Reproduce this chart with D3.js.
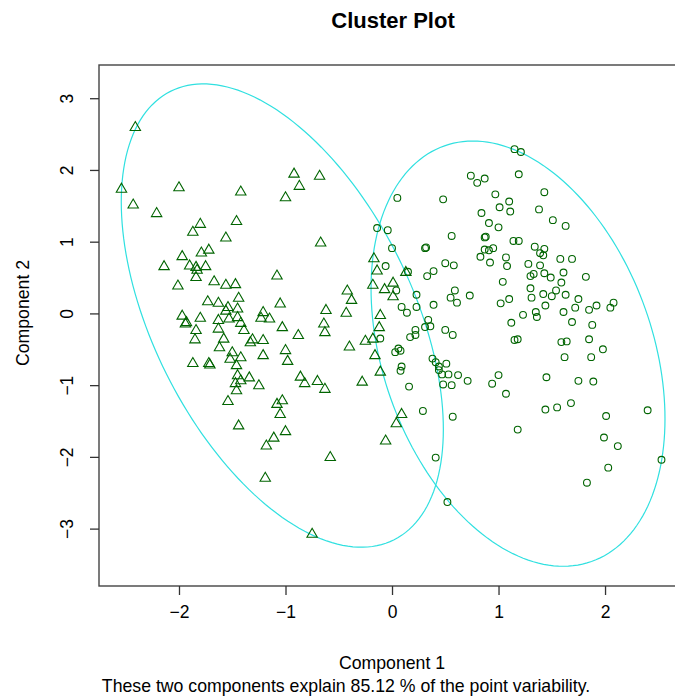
<!DOCTYPE html>
<html>
<head>
<meta charset="utf-8">
<script src="https://cdn.jsdelivr.net/npm/d3@7"></script>
<style>
  html, body { margin: 0; padding: 0; background: #fff; }
  svg text { font-family: "Liberation Sans", Arial, sans-serif; fill: #000; }
</style>
</head>
<body>
<svg id="chart" width="675" height="696"></svg>
<script>
// ---- data (component scores) ----
const cluster1X = [-2.41,-2.54,-2.43,-2.21,-2.00,-1.42,-0.92,-0.68,-0.87,-1.00,-1.80,-1.87,-1.46,-1.56,-0.67,-1.72,-1.79,-1.97,-2.14,-1.90,-1.84,-1.75,-1.84,-2.01,-1.67,-1.56,-1.47,-1.08,-0.17,-0.14,-0.18,-0.42,-0.38,-0.07,-1.83,-1.73,-1.63,-1.54,-1.44,-1.45,-1.56,-1.97,-1.93,-1.94,-1.80,-1.84,-1.85,-1.63,-1.63,-1.53,-1.45,-1.42,-1.39,-1.58,-1.62,-1.31,-1.33,-1.21,-1.21,-1.23,-1.15,-1.05,-1.03,-0.88,-1.50,-1.42,-1.52,-1.46,-1.21,-1.00,-0.98,-1.87,-1.72,-1.71,-1.45,-1.34,-1.42,-1.47,-1.25,-1.46,-1.54,-0.86,-0.82,-1.03,-1.08,-0.62,-0.64,-0.63,-0.43,-0.11,-0.12,-0.25,-0.40,-0.16,-0.11,-0.06,-0.70,-0.63,-0.28,-1.05,-1.44,-1.00,-1.11,-1.18,-0.58,-1.19,-0.75,0.01,0.01,0.13,-0.18,0.09,0.04];
const cluster1Y = [2.60,1.74,1.52,1.40,1.76,1.70,1.95,1.92,1.78,1.62,1.25,1.14,1.29,1.06,0.99,0.89,0.85,0.80,0.66,0.67,0.65,0.66,0.51,0.39,0.45,0.40,0.41,0.53,0.77,0.60,0.40,0.32,0.19,0.34,0.61,0.17,0.15,0.09,0.22,0.07,0.04,-0.03,-0.12,-0.14,-0.06,-0.23,-0.36,-0.09,-0.21,-0.07,-0.05,-0.13,-0.23,-0.35,-0.47,-0.36,-0.40,-0.37,0.02,-0.06,-0.07,0.14,-0.19,-0.30,-0.54,-0.61,-0.63,-0.72,-0.58,-0.51,-0.66,-0.69,-0.69,-0.71,-0.86,-0.89,-0.93,-0.97,-1.00,-1.07,-1.22,-0.88,-0.97,-1.21,-1.26,0.05,-0.14,-0.26,0.01,-0.02,-0.19,-0.38,-0.46,-0.58,-0.81,-1.77,-0.94,-1.05,-0.95,-1.40,-1.56,-1.64,-1.73,-1.84,-2.00,-2.29,-3.07,0.43,0.24,0.58,-0.35,-1.40,-1.53];

const cluster2X = [-0.14,-0.04,-0.06,-0.11,0.00,0.31,0.32,0.56,0.15,0.39,0.33,0.50,0.58,0.04,0.23,0.23,0.39,0.09,0.14,0.34,0.31,0.36,0.59,0.55,0.61,0.22,0.22,0.17,0.50,0.57,0.06,0.03,0.08,0.09,0.08,0.16,0.38,0.41,0.44,0.44,0.51,0.47,0.53,0.62,0.48,0.56,1.15,1.21,0.74,0.80,0.87,1.19,0.97,1.43,0.05,0.48,1.10,1.01,1.11,1.38,0.84,0.91,1.00,1.51,1.63,0.87,0.88,1.14,1.19,0.87,0.95,0.91,0.83,0.92,1.07,1.08,1.34,1.43,1.39,1.42,1.58,1.69,1.28,1.39,1.30,1.33,1.43,1.49,1.61,1.59,1.82,1.04,1.30,1.31,1.42,1.50,1.54,1.63,1.75,1.10,1.02,1.44,1.23,1.35,1.36,1.61,1.72,1.85,1.92,2.05,2.08,1.69,1.88,1.12,1.85,1.59,1.64,1.15,1.18,1.98,1.62,1.87,0.73,0.71,0.94,1.00,1.07,1.45,1.75,1.89,1.44,1.55,1.68,2.01,2.40,1.18,1.99,2.12,2.53,2.03,1.83,0.52,0.41,0.29,0.57];
const cluster2Y = [1.19,1.16,0.66,-0.35,0.91,0.91,0.92,1.08,0.58,0.59,0.52,0.70,0.67,0.32,0.26,0.09,0.12,0.09,0.01,-0.09,-0.19,-0.18,0.32,0.22,0.15,-0.23,-0.30,-0.33,-0.23,-0.30,-0.49,-0.54,-0.52,-0.74,-0.80,-1.02,-0.63,-0.68,-0.74,-0.79,-0.70,-0.85,-0.85,-0.86,-0.99,-1.00,2.29,2.25,1.92,1.82,1.88,1.94,1.66,1.69,1.61,1.59,1.56,1.48,1.42,1.45,1.40,1.26,1.20,1.30,1.22,1.06,1.07,1.01,1.01,0.89,0.91,0.88,0.79,0.71,0.78,0.66,0.93,0.90,0.84,0.81,0.76,0.76,0.69,0.67,0.52,0.55,0.56,0.50,0.57,0.43,0.51,0.44,0.35,0.22,0.27,0.24,0.32,0.26,0.20,0.20,0.14,0.11,-0.02,0.02,-0.05,0.02,0.08,0.05,0.11,0.08,0.15,-0.12,-0.16,-0.13,-0.36,-0.40,-0.39,-0.37,-0.36,-0.50,-0.61,-0.61,0.25,-0.94,-0.98,-0.86,-1.12,-0.89,-0.94,-0.95,-1.34,-1.31,-1.25,-1.43,-1.35,-1.62,-1.73,-1.85,-2.04,-2.15,-2.36,-2.63,-2.01,-1.36,-1.44];

// cluster ellipses: centre and covariance-like shape matrix (data units)
const ellipseCenters = [[-1.03, -0.03], [1.183, -0.561]];
const ellipseShapes  = [[[2.286, -2.396], [-2.396, 10.43]], [[1.904, -1.252], [-1.252, 8.785]]];

const xTicks = [-2, -1, 0, 1, 2];
const yTicks = [-3, -2, -1, 0, 1, 2, 3];

const titleText = "Cluster Plot";
const xLabel = "Component 1";
const yLabel = "Component 2";
const subText = "These two components explain 85.12 % of the point variability.";

// ---- layout ----
const svg = d3.select("#chart");
const plotL = 99, plotR = 678, plotT = 65, plotB = 586;
const x = d3.scaleLinear().domain([-2.751, 2.685]).range([plotL, plotR]);
const y = d3.scaleLinear().domain([-3.80, 3.463]).range([plotB, plotT]);

const ptColor = "#006400";
const ellColor = "#30e0e0";

// ellipses
ellipseCenters.forEach((c, i) => {
  const S = ellipseShapes[i];
  const l11 = Math.sqrt(S[0][0]);
  const l21 = S[1][0] / l11;
  const l22 = Math.sqrt(S[1][1] - l21 * l21);
  const pts = d3.range(0, 361, 2).map(a => {
    const t = a * Math.PI / 180;
    const u = Math.cos(t), v = Math.sin(t);
    return [x(c[0] + l11 * u), y(c[1] + l21 * u + l22 * v)];
  });
  svg.append("path")
    .attr("d", d3.line()(pts) + "Z")
    .attr("fill", "none")
    .attr("stroke", ellColor)
    .attr("stroke-width", 1.2);
});

// triangles (cluster 1)
const tri = "M0,-5.4L5.2,3.6L-5.2,3.6Z";
svg.append("g").selectAll("path")
  .data(d3.range(cluster1X.length))
  .join("path")
  .attr("d", tri)
  .attr("transform", i => `translate(${x(cluster1X[i])},${y(cluster1Y[i])})`)
  .attr("fill", "none")
  .attr("stroke", ptColor)
  .attr("stroke-width", 1.1);

// circles (cluster 2)
svg.append("g").selectAll("circle")
  .data(d3.range(cluster2X.length))
  .join("circle")
  .attr("cx", i => x(cluster2X[i]))
  .attr("cy", i => y(cluster2Y[i]))
  .attr("r", 3.4)
  .attr("fill", "none")
  .attr("stroke", ptColor)
  .attr("stroke-width", 1.1);

// frame
svg.append("rect")
  .attr("x", plotL).attr("y", plotT)
  .attr("width", plotR - plotL).attr("height", plotB - plotT)
  .attr("fill", "none").attr("stroke", "#444").attr("stroke-width", 1.4);

// axes
const xAxis = svg.append("g")
  .attr("transform", `translate(0,${plotB})`)
  .call(d3.axisBottom(x).tickValues(xTicks).tickSize(9).tickPadding(11).tickFormat(d3.format("d")));
const yAxis = svg.append("g")
  .attr("transform", `translate(${plotL},0)`)
  .call(d3.axisLeft(y).tickValues(yTicks).tickSize(9).tickFormat(d3.format("d")));
[xAxis, yAxis].forEach(g => {
  g.select(".domain").remove();
  g.selectAll(".tick line").attr("stroke", "#333").attr("stroke-width", 1.3);
  g.selectAll(".tick text").attr("font-size", 17.5).attr("font-family", "Liberation Sans, Arial, sans-serif").attr("fill", "#000");
});
yAxis.selectAll(".tick text")
  .attr("x", null).attr("dy", null)
  .attr("text-anchor", "middle")
  .attr("transform", "translate(-26,0) rotate(-90)");

// titles
svg.append("text").attr("x", 393).attr("y", 28)
  .attr("text-anchor", "middle").attr("font-size", 22).attr("font-weight", "bold").text(titleText);
svg.append("text").attr("x", 392).attr("y", 669)
  .attr("text-anchor", "middle").attr("font-size", 17.7).text(xLabel);
svg.append("text").attr("x", 346).attr("y", 692)
  .attr("text-anchor", "middle").attr("font-size", 17.7).text(subText);
svg.append("text")
  .attr("transform", "translate(29,313) rotate(-90)")
  .attr("text-anchor", "middle").attr("font-size", 17.7).text(yLabel);
</script>
</body>
</html>
